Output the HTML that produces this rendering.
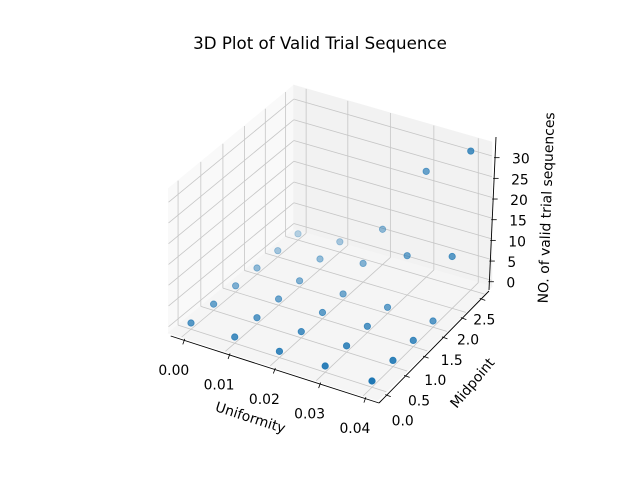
<!DOCTYPE html>
<html><head><meta charset="utf-8"><style>
html,body{margin:0;padding:0;background:#fff}
svg{display:block}
text{font-family:"DejaVu Sans","Liberation Sans",sans-serif;fill:#000}
</style></head><body>
<svg id="chart" width="640" height="480" viewBox="0 0 640 480" xmlns="http://www.w3.org/2000/svg">
<rect width="640" height="480" fill="#fff"/>
<text x="320" y="49" text-anchor="middle" font-size="16.67">3D Plot of Valid Trial Sequence</text>
<g id="panes"></g><g id="grid"></g><g id="axes"></g><g id="pts"></g>
<text x="0" y="0" text-anchor="middle" font-size="13.9" transform="translate(249,422) rotate(18)">Uniformity</text>
<text x="0" y="0" text-anchor="middle" font-size="13.9" transform="translate(476,386) rotate(-50)">Midpoint</text>
<text x="0" y="0" text-anchor="middle" font-size="13.9" transform="translate(551,208) rotate(-88)">NO. of valid trial sequences</text>
</svg>
<script>
const uniformity = [0, 0.01, 0.02, 0.03, 0.04];
const midpoint = [0, 0.5, 1, 1.5, 2, 2.5];
const countsM0 = [0, 0, 0, 0, 0];
const countsM05 = [0, 0, 0, 0, 0];
const countsM1 = [0, 0, 0, 0, 0];
const countsM15 = [0, 0, 0, 0, 0];
const countsM2 = [0, 1, 3, 8, 11];
const countsM25 = [0, 1, 7, 24, 32];
const xTicks = [0, 0.01, 0.02, 0.03, 0.04];
const xTickLabels = ["0.00", "0.01", "0.02", "0.03", "0.04"];
const yTicks = [0, 0.5, 1, 1.5, 2, 2.5];
const yTickLabels = ["0.0", "0.5", "1.0", "1.5", "2.0", "2.5"];
const zTicks = [0, 5, 10, 15, 20, 25, 30];
const zTickLabels = ["0", "5", "10", "15", "20", "25", "30"];

const counts = [countsM0, countsM05, countsM1, countsM15, countsM2, countsM25];
const XL = [-0.003, 0.043], YL = [-0.205, 2.705], ZL = [-2, 35];
const KZ = 4.15;
const NS = "http://www.w3.org/2000/svg";
function homog(p0, p1, p2, p3) {
  const dx1 = p1[0]-p2[0], dx2 = p3[0]-p2[0], dx3 = p0[0]-p1[0]+p2[0]-p3[0];
  const dy1 = p1[1]-p2[1], dy2 = p3[1]-p2[1], dy3 = p0[1]-p1[1]+p2[1]-p3[1];
  const den = dx1*dy2 - dx2*dy1;
  const g = (dx3*dy2 - dx2*dy3)/den, h = (dx1*dy3 - dx3*dy1)/den;
  const a = p1[0]-p0[0]+g*p1[0], b = p3[0]-p0[0]+h*p3[0], c = p0[0];
  const d = p1[1]-p0[1]+g*p1[1], e = p3[1]-p0[1]+h*p3[1], f = p0[1];
  return (u, v) => { const w = g*u+h*v+1; return [(a*u+b*v+c)/w, (d*u+e*v+f)/w]; };
}
const F = homog([191,323],[372,381],[433,321],[257,268]);
function proj(x, y, z) {
  const p = F(x/0.04, y/1.5);
  return [p[0], p[1] - KZ*z];
}
const U = x => (x-XL[0])/(XL[1]-XL[0]);
const V = y => (y-YL[0])/(YL[1]-YL[0]);
const W = z => (z-ZL[0])/(ZL[1]-ZL[0]);
function mk(tag, attrs, parent) {
  const el = document.createElementNS(NS, tag);
  for (const k in attrs) el.setAttribute(k, attrs[k]);
  parent.appendChild(el); return el;
}
const pts = (arr) => arr.map(p => p[0].toFixed(2)+","+p[1].toFixed(2)).join(" ");
const x0 = XL[0], x1 = XL[1], y0 = YL[0], y1 = YL[1], z0 = -1.5, z1 = 33.3;
const panes = document.getElementById("panes");
let el;
el = mk("polygon", {points: pts([proj(x0,y0,z0),proj(x0,y1,z0),proj(x0,y1,z1),proj(x0,y0,z1)]), fill: "#f9f9f9", stroke: "#f9f9f9"}, panes);


el = mk("polygon", {points: pts([proj(x0,y1,z0),proj(x1,y1,z0),proj(x1,y1,z1),proj(x0,y1,z1)]), fill: "#f2f2f2", stroke: "#f2f2f2"}, panes);


el = mk("polygon", {points: pts([proj(x0,y0,z0),proj(x1,y0,z0),proj(x1,y1,z0),proj(x0,y1,z0)]), fill: "#f5f5f5", stroke: "#f5f5f5"}, panes);



const grid = document.getElementById("grid");
const gs = {stroke: "#c6c6c6", "stroke-width": 0.8, fill: "none"};
function gline(a, b, name) {
  const l = mk("polyline", Object.assign({points: pts([a, b])}, gs), grid);
  
  
}
xTicks.forEach(x => {
  gline(proj(x,y0,z0), proj(x,y1,z0), "x-gridline");
  gline(proj(x,y1,z0), proj(x,y1,z1), "x-gridline");
});
yTicks.forEach(y => {
  gline(proj(x0,y,z0), proj(x1,y,z0), "y-gridline");
  gline(proj(x0,y,z0), proj(x0,y,z1), "y-gridline");
});
zTicks.forEach(z => {
  gline(proj(x0,y0,z), proj(x0,y1,z), "z-gridline");
  gline(proj(x0,y1,z), proj(x1,y1,z), "z-gridline");
});

const axes = document.getElementById("axes");
const XA = [[170.7,336],[379,403]], YA = [[379,403],[489,291]], ZA = [[489,290],[496,137]];
const lerp = (A, t) => [A[0][0]+(A[1][0]-A[0][0])*t, A[0][1]+(A[1][1]-A[0][1])*t];
[[XA,"x-axis-line"],[YA,"y-axis-line"],[ZA,"z-axis-line"]].forEach(([A,n]) => {
  const l = mk("polyline", {points: pts(A), stroke: "#000", "stroke-width": 0.9, fill: "none"}, axes);
  
  
});
function tick(p, d1, d2) {
  const l = mk("line", {x1: p[0]+d1[0], y1: p[1]+d1[1], x2: p[0]+d2[0], y2: p[1]+d2[1], stroke: "#000", "stroke-width": 0.8}, axes);
  
  
}
function label(txt, x, y, anchor, name) {
  const t = mk("text", {x: x, y: y, "text-anchor": anchor, "font-size": 13.9}, axes);
  t.textContent = txt;
  
  
}
xTicks.forEach((x, i) => {
  const p = lerp(XA, U(x));
  tick(p, [0.5,-1.5], [-1.5,4]);
  label(xTickLabels[i], p[0]-10.5, p[1]+29.5+5, "middle", "x-tick-label");
});
yTicks.forEach((y, i) => {
  const v = V(y), p = lerp(YA, v);
  tick(p, [-1.5,-0.5], [4,1.5]);
  const ox = 17 + (2-17)*v, oy = 26 + (20-26)*v;
  label(yTickLabels[i], p[0]+ox, p[1]+oy+5, "middle", "y-tick-label");
});
zTicks.forEach((z, i) => {
  const p = lerp(ZA, W(z));
  tick(p, [-1,0], [4.5,0]);
  label(zTickLabels[i], p[0]+17, p[1]+6, "start", "z-tick-label");
});

const all = [];
midpoint.forEach((m, j) => uniformity.forEach((u, i) => {
  const c = counts[j][i];
  const near = 0.433*U(u) - 0.75*V(m) + 0.375*W(c);
  all.push({u, m, c, near});
}));
const nmin = Math.min(...all.map(p => p.near)), nmax = Math.max(...all.map(p => p.near));
all.sort((a, b) => a.near - b.near);
const pg = document.getElementById("pts");
all.forEach(p => {
  const s = proj(p.u, p.m, p.c);
  const a = 0.3 + 0.7*(p.near - nmin)/(nmax - nmin);
  const c = mk("circle", {cx: s[0].toFixed(2), cy: s[1].toFixed(2), r: 3.2, fill: "#1f77b4", "fill-opacity": a.toFixed(3), stroke: "#1f77b4", "stroke-opacity": a.toFixed(3), "stroke-width": 0.8}, pg);
  
  
});
</script>
</body></html>
